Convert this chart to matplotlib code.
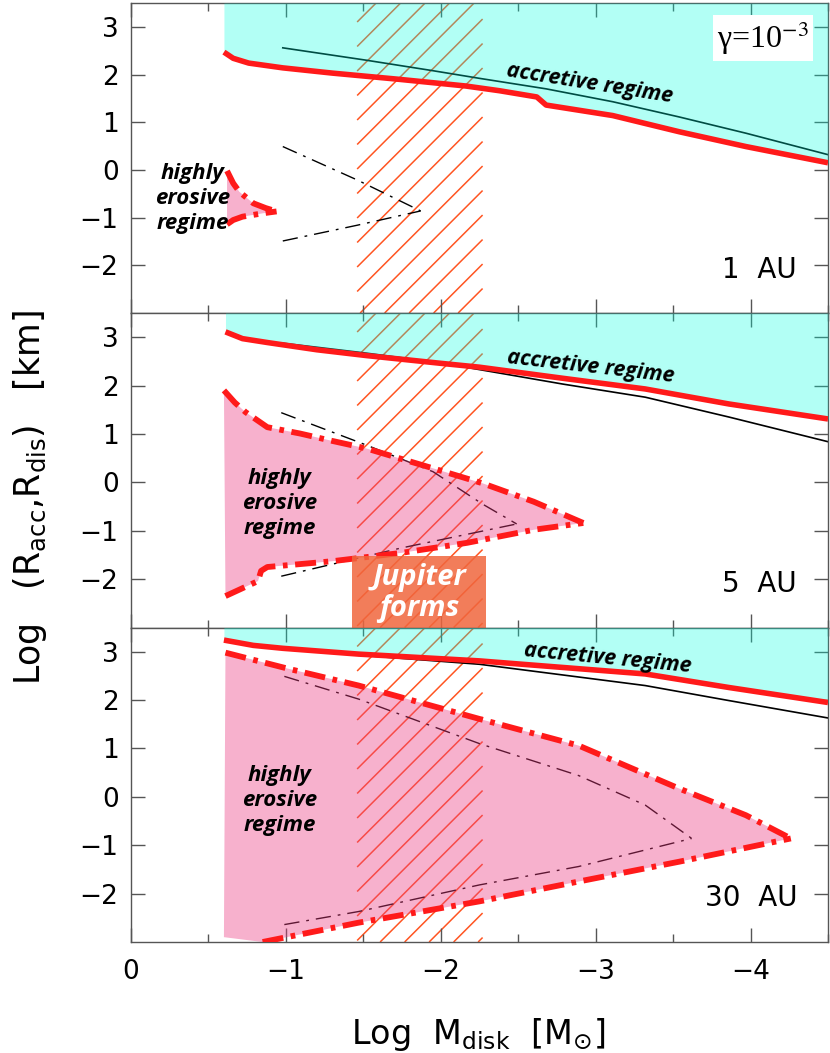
import numpy as np
import matplotlib
matplotlib.use("Agg")
import matplotlib.pyplot as plt
from matplotlib.patches import Rectangle
from matplotlib.collections import LineCollection
from matplotlib.transforms import IdentityTransform

# ---------------- data ----------------
# Panel 1 (1 AU)
p1_red_x = [-0.60, -0.66, -0.76, -0.98, -1.30, -1.73, -2.16, -2.38, -2.62, -2.68, -3.11, -3.54, -3.97, -4.50]
p1_red_y = [2.47, 2.34, 2.24, 2.14, 2.03, 1.90, 1.76, 1.66, 1.53, 1.36, 1.14, 0.80, 0.49, 0.15]
p1_blk_x = [-0.98, -1.52, -1.95, -2.25, -2.68, -3.11, -3.54, -3.97, -4.50]
p1_blk_y = [2.56, 2.30, 2.08, 1.92, 1.70, 1.43, 1.11, 0.77, 0.32]
p1_dd_up_x = [-0.98, -1.46, -1.87]
p1_dd_up_y = [0.49, -0.21, -0.86]
p1_dd_lo_x = [-0.98, -1.46, -1.87]
p1_dd_lo_y = [-1.49, -1.16, -0.86]
p1_ero_up_x = [-0.62, -0.66, -0.70, -0.79, -0.87, -0.94]
p1_ero_up_y = [-0.02, -0.28, -0.46, -0.70, -0.80, -0.87]
p1_ero_lo_x = [-0.62, -0.66, -0.72, -0.85, -0.94]
p1_ero_lo_y = [-1.14, -1.05, -0.98, -0.91, -0.87]

# Panel 2 (5 AU)
p2_red_x = [-0.61, -0.72, -0.88, -1.20, -1.52, -2.00, -2.25, -2.79, -3.32, -3.86, -4.50]
p2_red_y = [3.11, 2.97, 2.89, 2.74, 2.62, 2.46, 2.38, 2.15, 1.93, 1.62, 1.31]
p2_blk_x = [-0.97, -1.52, -2.00, -2.25, -2.79, -3.32, -3.86, -4.50]
p2_blk_y = [2.88, 2.67, 2.47, 2.33, 2.03, 1.76, 1.35, 0.84]
p2_dd_up_x = [-0.97, -1.52, -1.95, -2.27, -2.49]
p2_dd_up_y = [1.44, 0.77, 0.22, -0.45, -0.86]
p2_dd_lo_x = [-0.97, -1.74, -2.49]
p2_dd_lo_y = [-1.94, -1.36, -0.86]
p2_ero_up_x = [-0.60, -0.67, -0.74, -0.88, -1.09, -1.28, -1.52, -1.95, -2.27, -2.60, -2.92]
p2_ero_up_y = [1.90, 1.65, 1.45, 1.14, 1.01, 0.87, 0.70, 0.29, -0.02, -0.40, -0.84]
p2_ero_lo_x = [-0.61, -0.82, -0.84, -0.88, -1.30, -1.74, -2.17, -2.60, -2.92]
p2_ero_lo_y = [-2.35, -2.04, -1.83, -1.75, -1.63, -1.46, -1.25, -0.98, -0.84]

# Panel 3 (30 AU)
p3_red_x = [-0.60, -0.79, -0.98, -1.47, -2.25, -3.32, -3.86, -4.50]
p3_red_y = [3.24, 3.13, 3.07, 2.95, 2.81, 2.54, 2.26, 1.95]
p3_blk_x = [-0.98, -1.47, -2.25, -3.32, -3.86, -4.50]
p3_blk_y = [3.06, 2.93, 2.74, 2.30, 1.99, 1.63]
p3_dd_up_x = [-0.99, -1.47, -2.25, -2.89, -3.32, -3.62]
p3_dd_up_y = [2.49, 2.02, 1.10, 0.44, -0.17, -0.86]
p3_dd_lo_x = [-0.99, -1.47, -2.25, -2.89, -3.62]
p3_dd_lo_y = [-2.64, -2.37, -1.82, -1.44, -0.86]
p3_ero_up_x = [-0.61, -1.00, -1.47, -2.25, -2.89, -3.54, -3.97, -4.26]
p3_ero_up_y = [2.98, 2.66, 2.30, 1.61, 1.06, 0.17, -0.38, -0.86]
p3_ero_lo_x = [-0.85, -1.47, -2.25, -2.89, -3.54, -4.26]
p3_ero_lo_y = [-3.00, -2.60, -2.16, -1.75, -1.34, -0.86]
p3_ero_corner = (-0.60, -2.90)

panel_labels = ["1  AU", "5  AU", "30  AU"]
accretive_pos = [(-2.96, 1.80, -9.0), (-2.97, 2.38, -6.5), (-3.08, 2.86, -5.5)]
erosive_pos = [(-0.40, -0.60), (-0.96, -0.43), (-0.96, -0.08)]

jupiter_x = (-1.43, -2.29)
jupiter_y = (-1.53, -3.0)
hatch_x = (-1.46, -2.27)

x_ticks = [0, -1, -2, -3, -4]
x_tick_labels = ["0", "\u22121", "\u22122", "\u22123", "\u22124"]
y_ticks = [-2, -1, 0, 1, 2, 3]
y_tick_labels = ["\u22122", "\u22121", "0", "1", "2", "3"]
XLIM = (0, -4.5)
YLIM = (-3, 3.5)

# ---------------- styles ----------------
RED = "#ff1a1a"
CYAN = "#00ffe0"
PINK = (235/255, 60/255, 130/255)
HATCH = "#ff5522"
GRAY = "#555555"
TXT_FONT = ["Open Sans", "DejaVu Sans"]

plt.rcParams["font.family"] = ["DejaVu Sans"]
plt.rcParams["mathtext.fontset"] = "dejavusans"

fig = plt.figure(figsize=(8.30, 10.53), dpi=100)
W, H = 830, 1053
left, right = 131 / W, 828 / W
tops = [3, 313, 627.5]
bots = [313, 627.5, 942]

panels = [
    dict(red=(p1_red_x, p1_red_y), blk=(p1_blk_x, p1_blk_y),
         ddu=(p1_dd_up_x, p1_dd_up_y), ddl=(p1_dd_lo_x, p1_dd_lo_y),
         eu=(p1_ero_up_x, p1_ero_up_y), el=(p1_ero_lo_x, p1_ero_lo_y), corner=None),
    dict(red=(p2_red_x, p2_red_y), blk=(p2_blk_x, p2_blk_y),
         ddu=(p2_dd_up_x, p2_dd_up_y), ddl=(p2_dd_lo_x, p2_dd_lo_y),
         eu=(p2_ero_up_x, p2_ero_up_y), el=(p2_ero_lo_x, p2_ero_lo_y), corner=None),
    dict(red=(p3_red_x, p3_red_y), blk=(p3_blk_x, p3_blk_y),
         ddu=(p3_dd_up_x, p3_dd_up_y), ddl=(p3_dd_lo_x, p3_dd_lo_y),
         eu=(p3_ero_up_x, p3_ero_up_y), el=(p3_ero_lo_x, p3_ero_lo_y), corner=p3_ero_corner),
]

axes = []
for i, pd in enumerate(panels):
    ax = fig.add_axes([left, 1 - bots[i] / H, right - left, (bots[i] - tops[i]) / H])
    axes.append(ax)
    ax.set_xlim(*XLIM)
    ax.set_ylim(*YLIM)
    for s in ax.spines.values():
        s.set_color(GRAY)
        s.set_linewidth(1.0)
    ax.set_xticks(x_ticks)
    ax.set_xticks(np.arange(0, -4.51, -0.5), minor=True)
    ax.set_yticks(y_ticks)
    ax.set_yticklabels(y_tick_labels)
    if i == 2:
        ax.set_xticklabels(x_tick_labels)
    else:
        ax.set_xticklabels([])
    ax.tick_params(which="both", direction="in", top=True, right=True, color=GRAY, width=1.0)
    ax.tick_params(which="major", length=10, labelsize=19, pad=9)
    ax.tick_params(axis="x", which="major", pad=12)
    ax.tick_params(which="minor", length=6)
    ax.tick_params(axis="y", which="minor", left=False, right=False)

    # hatch pattern (decorative 45-degree lines inside the hatched band, pixel space)
    (x0, y0), (x1, y1) = ax.transData.transform([(hatch_x[0], YLIM[0]), (hatch_x[1], YLIM[1])])
    xa, xb = min(x0, x1), max(x0, x1)
    ya, yb = min(y0, y1), max(y0, y1)
    segs = []
    for c in np.arange(xa - (yb - ya) - 30, xb + 30, 24.5):
        ys = max(ya, ya + (xa - c))
        ye = min(yb, ya + (xb - c))
        if ye > ys:
            segs.append([(c + ys - ya, ys), (c + ye - ya, ye)])
    lc = LineCollection(segs, colors=HATCH, linewidths=1.1, transform=IdentityTransform(), zorder=1)
    ax.add_collection(lc, autolim=False)

    # black solid and dash-dot lines
    ax.plot(*pd["blk"], color="black", lw=1.2, zorder=2)
    ax.plot(*pd["ddu"], color="black", lw=1.0, ls=(0, (11, 5, 2, 5)), zorder=2)
    ax.plot(*pd["ddl"], color="black", lw=1.0, ls=(0, (11, 5, 2, 5)), zorder=2)

    # accretive region
    rx, ry = pd["red"]
    ax.fill_between(rx, ry, YLIM[1], color=CYAN, alpha=0.30, lw=0, zorder=3)

    # erosive region
    ux, uy = pd["eu"]
    lx, ly = pd["el"]
    px = list(ux) + list(lx[::-1])
    py = list(uy) + list(ly[::-1])
    if pd["corner"] is not None:
        px.append(pd["corner"][0])
        py.append(pd["corner"][1])
    ax.fill(px, py, color=PINK, alpha=0.40, lw=0, zorder=3)

    # red curves
    ax.plot(rx, ry, color=RED, lw=4.0, zorder=5, solid_capstyle="butt")
    ax.plot(ux, uy, color=RED, lw=4.2, ls=(0, (3.6, 1.3, 0.8, 1.3)), zorder=5)
    ax.plot(lx, ly, color=RED, lw=4.2, ls=(0, (3.6, 1.3, 0.8, 1.3)), zorder=5)

    # labels
    ax.text(-4.30, -2.1, panel_labels[i], ha="right", va="center", fontsize=20, zorder=7)
    axp = accretive_pos[i]
    ax.text(axp[0], axp[1], "accretive regime", rotation=axp[2], rotation_mode="anchor",
            ha="center", va="center", fontsize=15.5, fontweight="bold", fontstyle="italic",
            family=TXT_FONT, zorder=7)
    ep = erosive_pos[i]
    ax.text(ep[0], ep[1], "highly\nerosive\nregime", ha="center", va="center", fontsize=16,
            fontweight="bold", fontstyle="italic", family=TXT_FONT, linespacing=1.25, zorder=7)

# gamma label
axes[0].text(-4.08, 2.77, "\u03b3=10$^{-3}$", family=["Liberation Serif", "DejaVu Serif"],
             math_fontfamily="stix", fontsize=23, ha="center", va="center", zorder=8,
             bbox=dict(facecolor="white", edgecolor="none", pad=3))

# Jupiter forms box
ax2 = axes[1]
ax2.add_patch(Rectangle((jupiter_x[0], jupiter_y[0]), jupiter_x[1] - jupiter_x[0],
                        jupiter_y[1] - jupiter_y[0], facecolor=(0.94, 0.40, 0.24),
                        alpha=0.85, edgecolor="none", zorder=6, clip_on=False))
ax2.text((jupiter_x[0] + jupiter_x[1]) / 2, (jupiter_y[0] + jupiter_y[1]) / 2 - 0.02,
         "Jupiter\nforms", color="white", ha="center", va="center", fontsize=21,
         fontweight="bold", fontstyle="italic", family=TXT_FONT, linespacing=1.1, zorder=7)

fig.text(0.036, 0.527, r"Log   (R$_{\rm acc}$,R$_{\rm dis}$)   [km]", rotation=90,
         ha="center", va="center", fontsize=25)
fig.text(0.576, 0.018, r"Log  M$_{\rm disk}$  [M$_{\odot}$]", ha="center", va="center",
         fontsize=24)

fig.savefig("out.png", dpi=100)
